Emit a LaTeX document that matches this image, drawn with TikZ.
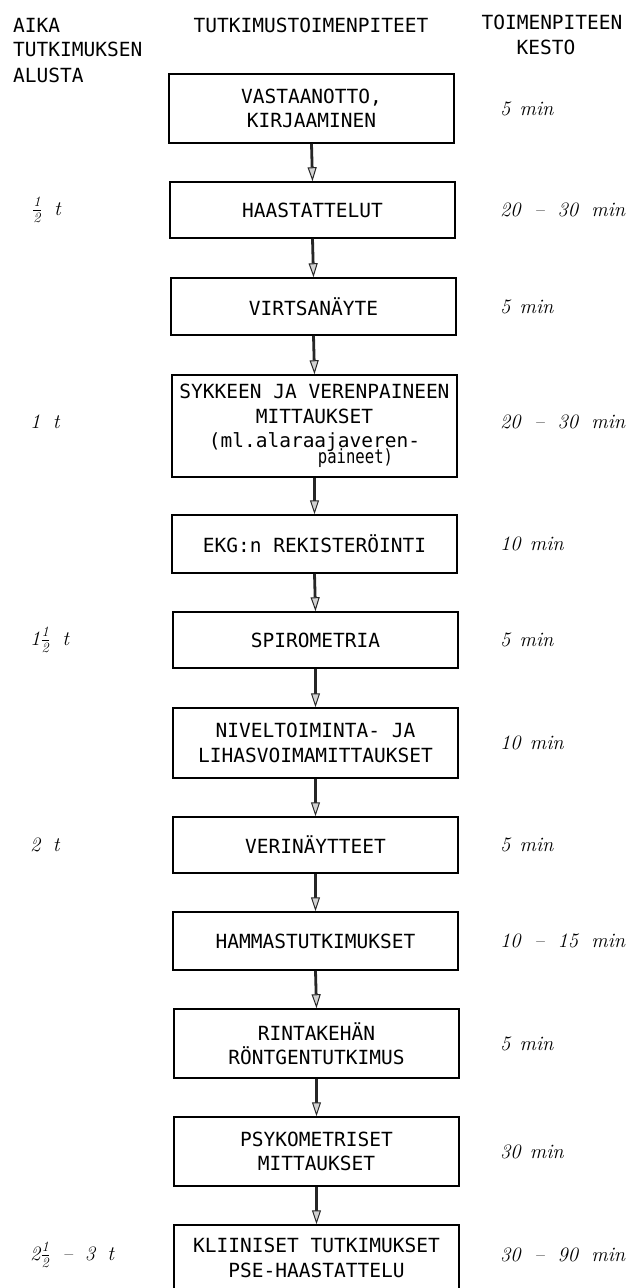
\documentclass[tikz,border=0pt]{standalone}
\usepackage{fontspec}
\usepackage{graphicx}
\usetikzlibrary{arrows.meta}
\newfontfamily\monofont{DejaVu Sans Mono}
\newcommand\hlf{\ensuremath{\textstyle\frac{\mathit{1}}{\mathit{2}}}}
\begin{document}
\begin{tikzpicture}[x=1pt,y=-1pt,
  stepbox/.style={draw, line width=1.5pt, minimum width=285pt, inner sep=0pt,
    align=center, font=\monofont\fontsize{19.5}{24.5}\selectfont},
  head/.style={font=\monofont\fontsize{19.5}{24.5}\selectfont, inner sep=0pt},
  tlab/.style={font=\fontsize{20.5}{24}\selectfont\itshape, anchor=west, inner sep=0pt},
  flow/.style={line width=2.8pt, draw=black!85,
    -{Triangle[length=14pt,width=9pt,line width=1pt,fill=gray!35]}}
]
\useasboundingbox (0,0) rectangle (631,1288);
\clip (0,0) rectangle (631,1288);

% headers
\node[head, anchor=west] (h1) at (13,25) {AIKA};
\node[head, anchor=west] (h2) at (13,49) {TUTKIMUKSEN};
\node[head, anchor=west] (h3) at (13,75) {ALUSTA};
\node[head] (h4) at (311,25) {TUTKIMUSTOIMENPITEET};
\node[head] (h5) at (552,22) {TOIMENPITEEN};
\node[head] (h6) at (546,47) {KESTO};

% boxes
\node[stepbox, minimum height=69pt] (b1) at (311.5,108.5) {VASTAANOTTO,\\KIRJAAMINEN};
\node[stepbox, minimum height=56pt] (b2) at (312.5,210) {HAASTATTELUT};
\node[stepbox, minimum height=57pt] (b3) at (313.5,306.5) {VIRTSANÄYTE};
\node[stepbox, minimum height=102pt] (b4) at (314.5,426)
  {SYKKEEN JA VERENPAINEEN\\MITTAUKSET\\(ml.alaraajaveren-\\[-9pt]\hspace*{82pt}\scalebox{0.8}[1]{paineet)}};
\node[stepbox, minimum height=58pt] (b5) at (314.5,544) {EKG:n REKISTERÖINTI};
\node[stepbox, minimum height=56pt] (b6) at (315.5,640) {SPIROMETRIA};
\node[stepbox, minimum height=70pt] (b7) at (315.5,743) {NIVELTOIMINTA- JA\\LIHASVOIMAMITTAUKSET};
\node[stepbox, minimum height=56pt] (b8) at (315.5,845) {VERINÄYTTEET};
\node[stepbox, minimum height=58pt] (b9) at (315.5,941) {HAMMASTUTKIMUKSET};
\node[stepbox, minimum height=69pt] (b10) at (316.5,1043.5) {RINTAKEHÄN\\RÖNTGENTUTKIMUS};
\node[stepbox, minimum height=69pt] (b11) at (316.5,1151.5) {PSYKOMETRISET\\MITTAUKSET};
\node[stepbox, minimum height=66pt] (b12) at (316.5,1258) {KLIINISET TUTKIMUKSET\\PSE-HAASTATTELU};

% connectors
\foreach \a/\b in {b1/b2,b2/b3,b3/b4,b4/b5,b5/b6,b6/b7,b7/b8,b8/b9,b9/b10,b10/b11,b11/b12}
  \draw[flow] (\a.south) -- (\b.north);

% time from start
\node[tlab] (t1) at (32,210) {\hlf\hspace{0.6em}t};
\node[tlab] (t2) at (30,422) {1\hspace{0.6em}t};
\node[tlab] (t3) at (30,640) {1\hlf\hspace{0.6em}t};
\node[tlab] (t4) at (30,845) {2\hspace{0.6em}t};
\node[tlab] (t5) at (30,1255) {2\hlf\hspace{0.6em}--\hspace{0.6em}3\hspace{0.6em}t};

% durations
\node[tlab] (d1) at (500,108.5) {5\hspace{0.45em}min};
\node[tlab] (d2) at (500,210) {20\hspace{0.65em}--\hspace{0.65em}30\hspace{0.65em}min};
\node[tlab] (d3) at (500,306.5) {5\hspace{0.45em}min};
\node[tlab] (d4) at (500,422) {20\hspace{0.65em}--\hspace{0.65em}30\hspace{0.65em}min};
\node[tlab] (d5) at (500,544) {10\hspace{0.45em}min};
\node[tlab] (d6) at (500,640) {5\hspace{0.45em}min};
\node[tlab] (d7) at (500,743) {10\hspace{0.45em}min};
\node[tlab] (d8) at (500,845) {5\hspace{0.45em}min};
\node[tlab] (d9) at (500,941) {10\hspace{0.65em}--\hspace{0.65em}15\hspace{0.65em}min};
\node[tlab] (d10) at (500,1043.5) {5\hspace{0.45em}min};
\node[tlab] (d11) at (500,1151.5) {30\hspace{0.45em}min};
\node[tlab] (d12) at (500,1255) {30\hspace{0.65em}--\hspace{0.65em}90\hspace{0.65em}min};
\end{tikzpicture}
\end{document}
